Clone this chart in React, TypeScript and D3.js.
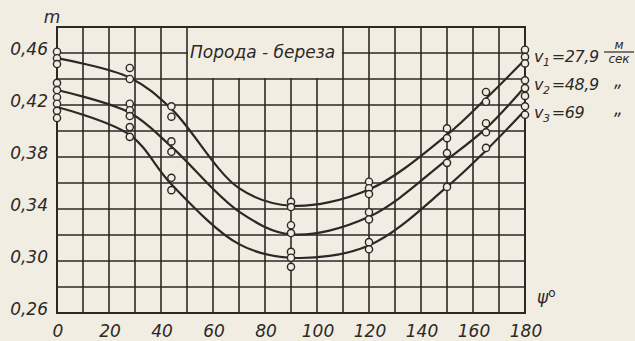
import { FC, useEffect, useRef } from "react";
import * as d3 from "d3";

// fitted curves at these angles
const angles = [0, 28, 44, 70, 90, 120, 150, 165, 180];
const curveV1 = [0.456, 0.441, 0.417, 0.356, 0.3425, 0.355, 0.397, 0.425, 0.455];
const curveV2 = [0.4315, 0.414, 0.388, 0.338, 0.3205, 0.334, 0.378, 0.402, 0.434];
const curveV3 = [0.4185, 0.397, 0.359, 0.313, 0.3025, 0.312, 0.357, 0.385, 0.416];

// measured points [psi, m]
const pointsV1 = [
    [0, 0.461], [0, 0.456], [0, 0.4515], [28, 0.4485], [28, 0.44], [44, 0.419], [44, 0.411],
    [90, 0.3455], [90, 0.3415], [120, 0.361], [120, 0.356], [120, 0.3515],
    [150, 0.402], [150, 0.3945], [165, 0.43], [165, 0.4225], [180, 0.4625], [180, 0.457], [180, 0.452],
];
const pointsV2 = [
    [0, 0.437], [0, 0.4315], [0, 0.426], [28, 0.421], [28, 0.416], [28, 0.4115], [44, 0.392], [44, 0.384],
    [90, 0.3275], [90, 0.3215], [120, 0.3375], [120, 0.332],
    [150, 0.383], [150, 0.3755], [165, 0.406], [165, 0.399], [180, 0.439], [180, 0.433], [180, 0.427],
];
const pointsV3 = [
    [0, 0.421], [0, 0.4155], [0, 0.41], [28, 0.403], [28, 0.3955], [44, 0.364], [44, 0.3545],
    [90, 0.307], [90, 0.3025], [90, 0.2955], [120, 0.3145], [120, 0.309],
    [150, 0.357], [165, 0.387], [180, 0.419], [180, 0.4125],
];

const xTicks = [0, 20, 40, 60, 80, 100, 120, 140, 160, 180];
const yTicks = [0.26, 0.30, 0.34, 0.38, 0.42, 0.46];
const yTickLabels = ["0,26", "0,30", "0,34", "0,38", "0,42", "0,46"];
const seriesNames = ["1", "2", "3"];
const seriesValues = ["=27,9", "=48,9", "=69"];

const ink = "#2b2926";
const paper = "#f2ede2";
const font = "'DejaVu Sans', sans-serif";

const App: FC = () => {
    const svgRef = useRef<SVGSVGElement>(null);
    const width = 635;
    const height = 341;

    useEffect(() => {
        if (!svgRef.current) return;
        const svg = d3.select(svgRef.current);

        const x = d3.scaleLinear([0, 180], [57, 525]);
        const y = d3.scaleLinear([0.26, 0.48], [313, 27]);

        svg.append("rect").attr("width", width).attr("height", height).attr("fill", paper);

        // grid
        const grid = svg.append("g").attr("stroke", ink).attr("stroke-width", 1.6);
        grid.selectAll("line.v")
            .data(d3.range(0, 181, 10))
            .join("line")
            .attr("x1", (d) => x(d)).attr("x2", (d) => x(d))
            .attr("y1", y(0.26)).attr("y2", y(0.48));
        grid.selectAll("line.h")
            .data(d3.range(0, 12).map((i) => 0.26 + i * 0.02))
            .join("line")
            .attr("x1", x(0)).attr("x2", x(180))
            .attr("y1", (d) => y(d)).attr("y2", (d) => y(d));

        // blank panel for the title
        svg.append("rect")
            .attr("x", x(50) + 1).attr("y", y(0.48) + 1)
            .attr("width", x(110) - x(50) - 2).attr("height", y(0.44) - y(0.48) - 2)
            .attr("fill", paper);

        svg.append("rect")
            .attr("x", x(0)).attr("y", y(0.48))
            .attr("width", x(180) - x(0)).attr("height", y(0.26) - y(0.48))
            .attr("fill", "none").attr("stroke", ink).attr("stroke-width", 2);

        const line = d3.line<number>()
            .x((_, i) => x(angles[i]))
            .y((d) => y(d))
            .curve(d3.curveCatmullRom.alpha(0.5));

        [curveV1, curveV2, curveV3].forEach((c) => {
            svg.append("path")
                .attr("d", line(c))
                .attr("fill", "none")
                .attr("stroke", ink)
                .attr("stroke-width", 2.2);
        });

        [pointsV1, pointsV2, pointsV3].forEach((pts) => {
            svg.append("g")
                .selectAll("circle")
                .data(pts)
                .join("circle")
                .attr("cx", (d) => x(d[0]))
                .attr("cy", (d) => y(d[1]))
                .attr("r", 3.6)
                .attr("fill", paper)
                .attr("stroke", ink)
                .attr("stroke-width", 1.4);
        });

        const txt = (s: d3.Selection<SVGTextElement, unknown, null, undefined>) =>
            s.attr("font-family", font).attr("font-style", "italic").attr("font-size", 17).attr("fill", ink);

        svg.append("g")
            .selectAll("text")
            .data(yTicks)
            .join("text")
            .attr("x", 48)
            .attr("y", (d) => y(d) + 2)
            .attr("text-anchor", "end")
            .attr("font-family", font).attr("font-style", "italic").attr("font-size", 17).attr("fill", ink)
            .text((_, i) => yTickLabels[i]);

        svg.append("g")
            .selectAll("text")
            .data(xTicks)
            .join("text")
            .attr("x", (d) => x(d) + 1)
            .attr("y", 337)
            .attr("text-anchor", "middle")
            .attr("font-family", font).attr("font-style", "italic").attr("font-size", 17).attr("fill", ink)
            .text((d) => String(d));

        svg.append("text").attr("x", 52).attr("y", 23).attr("text-anchor", "middle").call(txt).text("m");

        const psi = svg.append("text").attr("x", 537).attr("y", 303).call(txt);
        psi.append("tspan").text("ψ");
        psi.append("tspan").attr("dy", -6).attr("font-size", 12).attr("font-style", "normal").text("o");

        svg.append("text").attr("x", 190).attr("y", 58).call(txt).text("Порода - береза");

        // legend on the right
        const legendY = [62, 90, 118];
        legendY.forEach((ly, i) => {
            const t = svg.append("text").attr("x", 534).attr("y", ly).call(txt)
                .attr("font-size", 16).attr("letter-spacing", -0.4);
            t.append("tspan").text("v");
            t.append("tspan").attr("dy", 4).attr("font-size", 11).text(seriesNames[i]);
            t.append("tspan").attr("dy", -4).attr("dx", 2).text(seriesValues[i]);
            if (i > 0) {
                svg.append("text").attr("x", 614).attr("y", ly - 3).call(txt).text("„");
            }
        });
        const frac = svg.append("g").attr("font-family", font).attr("font-style", "italic").attr("fill", ink);
        frac.append("text").attr("x", 619).attr("y", 49).attr("text-anchor", "middle").attr("font-size", 12).text("м");
        frac.append("line").attr("x1", 604).attr("x2", 634).attr("y1", 52).attr("y2", 52).attr("stroke", ink).attr("stroke-width", 1.2);
        frac.append("text").attr("x", 619).attr("y", 63).attr("text-anchor", "middle").attr("font-size", 12).text("сек");

        return () => {
            svg.selectAll("*").remove();
        };
    }, []);

    return (
        <svg
            ref={svgRef}
            width={width}
            height={height}
            style={{ position: "absolute", left: 0, top: 0 }}
        />
    );
};

export default App;
